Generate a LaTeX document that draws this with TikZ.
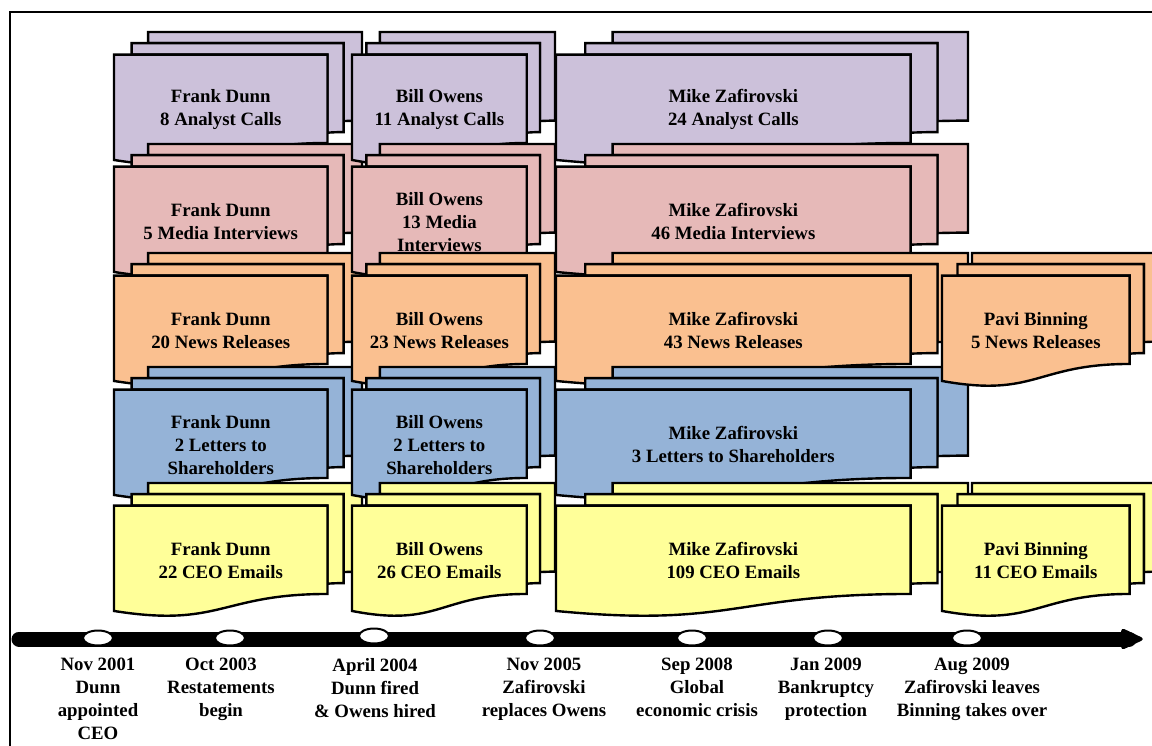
\documentclass[tikz,border=0pt]{standalone}
\usepackage{fontspec}
\setmainfont{Liberation Serif}
\usetikzlibrary{shapes.geometric}
\definecolor{cPurple}{RGB}{204,193,218}
\definecolor{cPink}{RGB}{230,185,184}
\definecolor{cOrange}{RGB}{250,192,144}
\definecolor{cBlue}{RGB}{149,179,215}
\definecolor{cYellow}{RGB}{255,255,153}
\tikzset{
  docline/.style={draw=black, line width=2.4pt, line join=miter},
  doctext/.style={font=\bfseries\fontsize{18.8}{23}\selectfont, align=center, inner sep=0pt, text=black},
  datetext/.style={doctext, anchor=north},
  evt/.style={ellipse, draw=black, fill=white, line width=2pt, minimum width=30pt, minimum height=15pt, inner sep=0pt},
  frameline/.style={draw=black, line width=2pt},
  timeline/.style={draw=black, line width=15pt, line cap=round},
}
% #1 x, #2 y (top), #3 w, #4 h, #5 fill, #6 name, #7 text
\newcommand{\mdoc}[7]{%
\begin{scope}[shift={(#1,#2)}, x=#3pt, y=-#4pt]
\filldraw[docline, fill=#5] (0.13759,0.08403) -- (0.13759,0) -- (1,0) -- (1,0.66630)
  .. controls (0.96296,0.66630) and (0.92593,0.66977) .. (0.92593,0.66977) -- (0.92593,0.08403) -- cycle;
\filldraw[docline, fill=#5] (0.07093,0.17014) -- (0.07093,0.08403) -- (0.92593,0.08403) -- (0.92593,0.75241)
  .. controls (0.89343,0.75241) and (0.86088,0.75704) .. (0.86088,0.75704) -- (0.86088,0.17014) -- cycle;
\filldraw[docline, fill=#5] (0,0.96213) .. controls (0.43046,1.08991) and (0.43046,0.83435) .. (0.86088,0.83435)
  -- (0.86088,0.17014) -- (0,0.17014) -- cycle;
\node[doctext] (#6) at (0.43046,0.584) {#7};
\end{scope}}
\begin{document}
\begin{tikzpicture}[x=1pt, y=-1pt]
\useasboundingbox (0,0) rectangle (1152,746);
\clip (0,0) rectangle (1152,746);
\fill[white] (0,0) rectangle (1152,746);
\draw[frameline] (10,12) rectangle (1180,780);
% column 1
\mdoc{114}{32}{248}{133}{cPurple}{fd1}{Frank Dunn\\8 Analyst Calls}
\mdoc{114}{144}{248}{133}{cPink}{fd2}{Frank Dunn\\5 Media Interviews}
\mdoc{114}{253}{248}{133}{cOrange}{fd3}{Frank Dunn\\20 News Releases}
\mdoc{114}{367}{248}{133}{cBlue}{fd4}{Frank Dunn\\2 Letters to\\Shareholders}
\mdoc{114}{483}{248}{133}{cYellow}{fd5}{Frank Dunn\\22 CEO Emails}
% column 2
\mdoc{352}{32}{203}{133}{cPurple}{bo1}{Bill Owens\\11 Analyst Calls}
\mdoc{352}{144}{203}{133}{cPink}{bo2}{Bill Owens\\13 Media\\Interviews}
\mdoc{352}{253}{203}{133}{cOrange}{bo3}{Bill Owens\\23 News Releases}
\mdoc{352}{367}{203}{133}{cBlue}{bo4}{Bill Owens\\2 Letters to\\Shareholders}
\mdoc{352}{483}{203}{133}{cYellow}{bo5}{Bill Owens\\26 CEO Emails}
% column 3
\mdoc{556}{32}{412}{133}{cPurple}{mz1}{Mike Zafirovski\\24 Analyst Calls}
\mdoc{556}{144}{412}{133}{cPink}{mz2}{Mike Zafirovski\\46 Media Interviews}
\mdoc{556}{253}{412}{133}{cOrange}{mz3}{Mike Zafirovski\\43 News Releases}
\mdoc{556}{367}{412}{133}{cBlue}{mz4}{Mike Zafirovski\\3 Letters to Shareholders}
\mdoc{556}{483}{412}{133}{cYellow}{mz5}{Mike Zafirovski\\109 CEO Emails}
% column 4
\mdoc{942}{253}{218}{133}{cOrange}{pb3}{Pavi Binning\\5 News Releases}
\mdoc{942}{483}{218}{133}{cYellow}{pb5}{Pavi Binning\\11 CEO Emails}
% timeline
\coordinate (tl0) at (19,639);
\coordinate (tl1) at (1145,639);
\draw[timeline] (tl0) -- ([xshift=-16pt]tl1);
\fill[black, rounded corners=4pt] (tl1) -- ++(-24,-11.5) -- ++(0,23) -- cycle;
\node[evt] (e1) at (98,638) {};
\node[evt] (e2) at (230,638) {};
\node[evt] (e3) at (374,636) {};
\node[evt] (e4) at (540,638) {};
\node[evt] (e5) at (692,638) {};
\node[evt] (e6) at (828,638) {};
\node[evt] (e7) at (967,638) {};
\node[datetext] (d1) at (98,658) {Nov 2001\\Dunn\\appointed\\CEO};
\node[datetext] (d2) at (221,658) {Oct 2003\\Restatements\\begin};
\node[datetext] (d3) at (375,658) {April 2004\\Dunn fired\\\& Owens hired};
\node[datetext] (d4) at (544,658) {Nov 2005\\Zafirovski\\replaces Owens};
\node[datetext] (d5) at (697,658) {Sep 2008\\Global\\economic crisis};
\node[datetext] (d6) at (826,658) {Jan 2009\\Bankruptcy\\protection};
\node[datetext] (d7) at (972,658) {Aug 2009\\Zafirovski leaves\\Binning takes over};
\end{tikzpicture}
\end{document}
